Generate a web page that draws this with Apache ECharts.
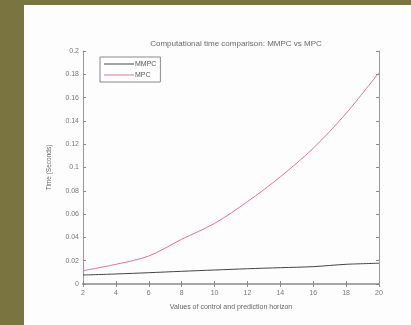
<!DOCTYPE html>
<html><head><meta charset="utf-8">
<script src="https://cdn.jsdelivr.net/npm/echarts@6/dist/echarts.min.js"></script>
<style>
html,body{margin:0;padding:0;width:411px;height:325px;background:#7a7440;overflow:hidden;}
#c{position:absolute;left:24px;top:5px;width:387px;height:320px;background:#fdfdfd;}
</style></head><body>
<div id="c"></div>
<script>
var horizons = [2, 4, 6, 8, 10, 12, 14, 16, 18, 20];
var mmpcTime = [0.0077, 0.0086, 0.0097, 0.0109, 0.0120, 0.0131, 0.0140, 0.0149, 0.0169, 0.0178];
var mpcTime  = [0.0114, 0.0169, 0.0240, 0.0384, 0.0520, 0.0707, 0.0920, 0.1165, 0.1465, 0.1815];
var titleText = 'Computational time comparison: MMPC vs MPC';
var xName = 'Values of control and prediction horizon';
var yName = 'Time (Seconds)';

var chart = echarts.init(document.getElementById('c'));
function pairs(ys){ return horizons.map(function(x,i){ return [x, ys[i]]; }); }
var labelStyle = {color:'#777', fontSize:7, fontFamily:'Liberation Sans, Arial, sans-serif'};
chart.setOption({
  animation:false,
  title:{text:titleText, left:207, textAlign:'center', top:30,
    textStyle:{fontSize:8, fontWeight:'normal', color:'#666', fontFamily:'Liberation Sans, Arial, sans-serif'}},
  grid:{left:59, top:46, width:296, height:233},
  legend:{orient:'vertical', left:76, top:52, itemWidth:30, itemHeight:1, itemGap:3,
    icon:'rect',
    padding:[3,4,3,4], borderColor:'#888', borderWidth:1, backgroundColor:'#fff',
    textStyle:{fontSize:7, lineHeight:8, color:'#555', fontFamily:'Liberation Sans, Arial, sans-serif', padding:[0,0,0,-4]},
    data:['MMPC','MPC']},
  xAxis:[{type:'value', min:2, max:20, interval:2,
    axisLine:{lineStyle:{color:'#999', width:2}},
    axisTick:{inside:true, length:3, lineStyle:{color:'#888'}},
    axisLabel:Object.assign({margin:6}, labelStyle),
    splitLine:{show:false},
    name:xName, nameLocation:'middle', nameGap:20,
    nameTextStyle:{fontSize:7, color:'#666', fontFamily:'Liberation Sans, Arial, sans-serif'}},
   {type:'value', position:'top', min:2, max:20, interval:2,
    axisLine:{lineStyle:{color:'#aaa', width:1.5}},
    axisTick:{inside:true, length:3, lineStyle:{color:'#888'}},
    axisLabel:{show:false}, splitLine:{show:false}}],
  yAxis:[{type:'value', min:0, max:0.2, interval:0.02,
    axisLine:{show:true, lineStyle:{color:'#999', width:1}},
    axisTick:{show:true, inside:true, length:3, lineStyle:{color:'#888'}},
    axisLabel:Object.assign({margin:4}, labelStyle),
    splitLine:{show:false},
    name:yName, nameLocation:'middle', nameGap:30, nameRotate:90,
    nameTextStyle:{fontSize:6.5, color:'#666', fontFamily:'Liberation Sans, Arial, sans-serif'}},
   {type:'value', position:'right', min:0, max:0.2, interval:0.02,
    axisLine:{show:true, lineStyle:{color:'#999', width:1}},
    axisTick:{show:true, inside:true, length:3, lineStyle:{color:'#888'}},
    axisLabel:{show:false}, splitLine:{show:false}}],
  series:[
    {name:'MMPC', type:'line', data:pairs(mmpcTime), symbol:'none', smooth:0.3,
      lineStyle:{color:'#444', width:1}, itemStyle:{color:'#444'}},
    {name:'MPC', type:'line', data:pairs(mpcTime), symbol:'none', smooth:0.3,
      lineStyle:{color:'#d8788a', width:1}, itemStyle:{color:'#d8788a'}}
  ]
});
</script>
</body></html>
